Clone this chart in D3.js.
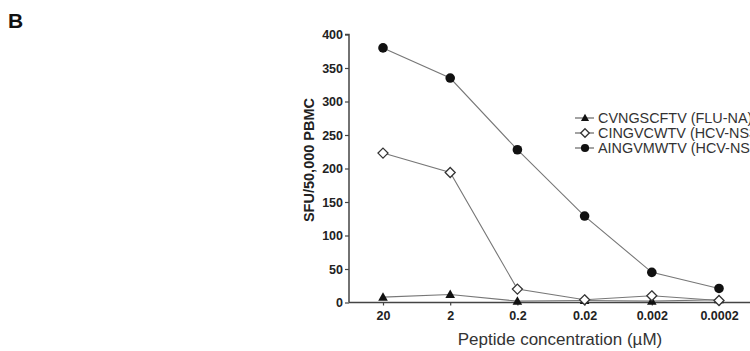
<!DOCTYPE html>
<html lang="en">
<head>
<meta charset="UTF-8" />
<script src="https://d3js.org/d3.v7.min.js"></script>
<style>
  body{margin:0;background:#fff;font-family:"Liberation Sans",Arial,sans-serif}
  svg{display:block}
</style>
</head>
<body>
<div id="chart"></div>
<script>
const concentrations = ["20", "2", "0.2", "0.02", "0.002", "0.0002"];
const fluNA = [8, 12, 2, 3, 2, 4];
const hcvCing = [223, 194, 20, 4, 10, 3];
const hcvAing = [380, 335, 228, 129, 45, 21];
const yTicks = [0, 50, 100, 150, 200, 250, 300, 350, 400];

const series = [
  {name: "CVNGSCFTV (FLU-NA)", values: fluNA, shape: "triangle"},
  {name: "CINGVCWTV (HCV-NS3)", values: hcvCing, shape: "diamond"},
  {name: "AINGVMWTV (HCV-NS3)", values: hcvAing, shape: "circle"}
];

const W = 750, H = 351;
const svg = d3.select("#chart").append("svg").attr("width", W).attr("height", H);

const x = d3.scalePoint().domain(concentrations).range([383, 719]);
const y = d3.scaleLinear().domain([0, 400]).range([302.5, 34.5]);

// panel letter
svg.append("text").attr("x", 8).attr("y", 28).attr("font-size", 21).attr("font-weight", 700)
  .attr("fill", "#111").text("B");

// axes
const axisColor = "#444";
const tickFont = "Liberation Sans, Arial, sans-serif";
const yAxis = svg.append("g").attr("transform", "translate(349,0)")
  .call(d3.axisLeft(y).tickValues(yTicks).tickSize(4).tickPadding(2));
yAxis.select(".domain").attr("stroke", axisColor).attr("stroke-width", 1.5).attr("d", `M-4,${y(400)}H0V${y(0)}`);
yAxis.selectAll(".tick line").attr("stroke", axisColor).attr("stroke-width", 1.2);
yAxis.selectAll(".tick text").attr("font-family", tickFont)
  .attr("font-size", 12.5).attr("font-weight", 700).attr("fill", "#222");

const xAxis = svg.append("g").attr("transform", `translate(0,${y(0)})`)
  .call(d3.axisBottom(x).tickSize(3).tickPadding(6));
xAxis.select(".domain").attr("stroke", axisColor).attr("stroke-width", 1.5).attr("d", `M349,0H760`);
xAxis.selectAll(".tick line").attr("stroke", axisColor).attr("stroke-width", 1.2);
xAxis.selectAll(".tick text").attr("font-family", tickFont)
  .attr("font-size", 12.5).attr("font-weight", 700).attr("fill", "#222");

// axis labels
svg.append("text").attr("transform", "translate(314,160) rotate(-90)").attr("text-anchor", "middle")
  .attr("font-size", 14.5).attr("font-weight", 700).attr("fill", "#222").text("SFU/50,000 PBMC");
svg.append("text").attr("x", 560).attr("y", 345).attr("text-anchor", "middle")
  .attr("font-size", 17).attr("fill", "#333").text("Peptide concentration (\u00b5M)");

// markers
function marker(g, shape, cx, cy, k = 1) {
  if (shape === "circle") {
    g.append("circle").attr("cx", cx).attr("cy", cy).attr("r", 4.8 * k).attr("fill", "#111");
  } else if (shape === "diamond") {
    const r = 5 * k;
    g.append("path").attr("d", `M${cx},${cy - r}L${cx + r},${cy}L${cx},${cy + r}L${cx - r},${cy}Z`)
      .attr("fill", "#fff").attr("stroke", "#333").attr("stroke-width", 1.3);
  } else {
    const r = 5 * k;
    g.append("path").attr("d", `M${cx},${cy - r}L${cx + r * 0.96},${cy + r * 0.7}L${cx - r * 0.96},${cy + r * 0.7}Z`)
      .attr("fill", "#111");
  }
}

const line = d3.line().x((d, i) => x(concentrations[i])).y(d => y(d));
series.forEach(s => {
  svg.append("path").datum(s.values).attr("d", line).attr("fill", "none")
    .attr("stroke", "#777").attr("stroke-width", 1.1);
});
series.forEach(s => {
  const g = svg.append("g");
  s.values.forEach((v, i) => marker(g, s.shape, x(concentrations[i]), y(v)));
});

// legend
const legend = svg.append("g");
series.forEach((s, i) => {
  const ly = 118 + i * 15;
  legend.append("line").attr("x1", 575).attr("x2", 594).attr("y1", ly).attr("y2", ly)
    .attr("stroke", "#666").attr("stroke-width", 1.2);
  marker(legend, s.shape, 585, ly, 0.85);
  legend.append("text").attr("x", 598).attr("y", ly + 5).attr("font-size", 14.4)
    .attr("fill", "#333").text(s.name);
});
</script>
</body>
</html>
